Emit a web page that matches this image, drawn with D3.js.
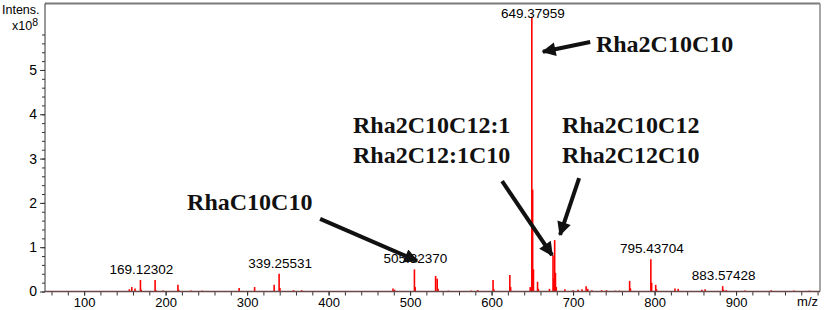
<html>
<script src="https://d3js.org/d3.v7.min.js"></script>
<body style="margin:0;background:#fff"></body>
<script>
const width = 829;
const height = 310;

// spectrum sticks: m/z and intensity (x10^8)
const mzValues = [155.5, 158.5, 162.5, 169.12, 170.1, 187.1, 188.1, 197, 215.1, 216.1, 231, 245,
    290.2, 309.2, 333.2, 339.26, 340.3, 357, 367, 409, 479, 481, 505.32, 506.3, 531.3, 533.3, 534.3,
    547, 575, 583, 601.8, 602.8, 622.4, 623.4, 647.4, 649.38, 650.38, 651.39, 656.4, 657.4, 671,
    675.39, 676.4, 677.41, 678.4, 679.4, 690, 700, 706, 711, 716, 718, 723, 735, 741, 752, 757,
    769.4, 770.4, 795.44, 796.4, 801.4, 802.4, 825, 829, 858, 862, 883.57, 884.6, 888, 911, 943, 971, 990];
const intensities = [0.05, 0.10, 0.07, 0.26, 0.04, 0.26, 0.03, 0.02, 0.15, 0.04, 0.02, 0.02,
    0.08, 0.10, 0.15, 0.40, 0.08, 0.03, 0.03, 0.01, 0.07, 0.04, 0.50, 0.10, 0.35, 0.29, 0.06,
    0.02, 0.02, 0.03, 0.26, 0.05, 0.37, 0.10, 0.10, 6.20, 2.30, 0.50, 0.22, 0.06, 0.06,
    0.82, 0.30, 1.16, 0.42, 0.10, 0.05, 0.03, 0.04, 0.05, 0.12, 0.06, 0.03, 0.03, 0.03, 0.02, 0.02,
    0.24, 0.07, 0.73, 0.20, 0.15, 0.05, 0.07, 0.06, 0.04, 0.05, 0.12, 0.04, 0.03, 0.02, 0.03, 0.02, 0.02];

// labelled peaks
const labelMz = [169.12302, 339.25531, 505.32370, 649.37959, 795.43704, 883.57428];
const labelIntensity = [0.26, 0.40, 0.50, 6.20, 0.73, 0.12];

const yTicks = [0, 1, 2, 3, 4, 5];
const xTicks = [100, 200, 300, 400, 500, 600, 700, 800, 900];

// annotations (text lines, anchor in data units) and arrows (tail -> tip in data units)
const annoText = [['Rha2C10C10'], ['RhaC10C10'], ['Rha2C10C12:1', 'Rha2C12:1C10'], ['Rha2C10C12', 'Rha2C12C10']];
const annoAt = [[728, 5.41], [226.4, 1.84], [430, 3.58], [686.5, 3.58]];
const arrowTail = [[721, 5.63], [389.6, 1.64], [612.9, 2.49], [707.4, 2.56]];
const arrowTip = [[663, 5.41], [508.6, 0.69], [674.2, 0.82], [684, 1.28]];

const plotLeft = 45, plotRight = 820, plotTop = 3.5, plotBottom = 291.5;

const x = d3.scaleLinear().domain([52, 1003]).range([plotLeft, plotRight]);
const y = d3.scaleLinear().domain([0, 6.5]).range([plotBottom, plotTop]);

const svg = d3.select('body')
    .append('svg')
        .attr('width', width)
        .attr('height', height)
        .style('font-family', 'Liberation Sans, Arial, sans-serif');

// frame top and right
svg.append('line')
    .attr('x1', plotLeft).attr('x2', plotRight).attr('y1', plotTop).attr('y2', plotTop)
    .attr('stroke', '#7a7a7a').attr('stroke-width', 2);
svg.append('line')
    .attr('x1', plotRight).attr('x2', plotRight).attr('y1', plotTop).attr('y2', plotBottom)
    .attr('stroke', '#8a8a8a').attr('stroke-width', 1.5);

// spectrum
svg.append('g')
    .selectAll('line')
    .data(mzValues.map((m, i) => ({mz: m, v: intensities[i]})))
    .enter()
    .append('line')
        .attr('x1', d => x(d.mz))
        .attr('x2', d => x(d.mz))
        .attr('y1', y(0))
        .attr('y2', d => y(d.v))
        .attr('stroke', '#ff0000')
        .attr('stroke-width', 1.6);

// y axis
const yMinor = d3.range(0, 5.81, 0.2);
svg.append('g')
    .attr('transform', `translate(${plotLeft},0)`)
    .call(d3.axisLeft(y).tickValues(yMinor).tickSize(3).tickFormat(''))
    .call(g => g.select('.domain').remove())
    .call(g => g.selectAll('line').attr('stroke', '#333'));
svg.append('g')
    .attr('transform', `translate(${plotLeft},0)`)
    .call(d3.axisLeft(y).tickValues(yTicks).tickSize(5).tickPadding(3).tickFormat(d3.format('d')))
    .call(g => g.select('.domain').attr('d', `M0,${plotTop}V${plotBottom}`).attr('stroke', '#333'))
    .call(g => g.selectAll('line').attr('stroke', '#333'))
    .call(g => g.selectAll('text').attr('font-size', 14).attr('fill', '#000').attr('font-family', null));

// x axis
const xMinor = d3.range(60, 1001, 20);
svg.append('g')
    .attr('transform', `translate(0,${plotBottom})`)
    .call(d3.axisBottom(x).tickValues(xMinor).tickSize(4).tickFormat(''))
    .call(g => g.select('.domain').remove())
    .call(g => g.selectAll('line').attr('stroke', '#333'));
svg.append('g')
    .attr('transform', `translate(0,${plotBottom})`)
    .call(d3.axisBottom(x).tickValues(xTicks).tickSize(4).tickPadding(2))
    .call(g => g.select('.domain').attr('d', `M${plotLeft},0H${plotRight}`).attr('stroke', '#6a4848').attr('stroke-width', 1.5))
    .call(g => g.selectAll('line').attr('stroke', '#333'))
    .call(g => g.selectAll('text').attr('font-size', 13).attr('fill', '#000').attr('font-family', null));

svg.append('text')
    .attr('x', 818).attr('y', 306)
    .attr('text-anchor', 'end')
    .attr('font-size', 13)
    .text('m/z');

svg.append('text')
    .attr('x', 2).attr('y', 14)
    .attr('font-size', 12.5)
    .text('Intens.');
const expo = svg.append('text')
    .attr('x', 12).attr('y', 30)
    .attr('font-size', 12.5)
    .text('x10');
expo.append('tspan')
    .attr('dy', -4)
    .attr('font-size', 10.5)
    .text('8');

// peak labels
svg.append('g')
    .selectAll('text')
    .data(labelMz.map((m, i) => ({mz: m, v: labelIntensity[i]})))
    .enter()
    .append('text')
        .attr('x', d => x(d.mz) + 1)
        .attr('y', d => Math.max(y(d.v) - 6, 18))
        .attr('text-anchor', 'middle')
        .attr('font-size', 13.5)
        .attr('fill', '#000')
        .text(d => d.mz.toFixed(5));

// annotations
svg.append('g')
    .selectAll('text')
    .data(annoText.map((t, i) => ({lines: t, at: annoAt[i]})))
    .enter()
    .append('text')
        .attr('font-family', 'Liberation Serif, Times New Roman, serif')
        .attr('font-weight', 'bold')
        .attr('font-size', 24)
        .attr('fill', '#111')
        .each(function(d) {
            const t = d3.select(this);
            d.lines.forEach((line, j) => {
                t.append('tspan')
                    .attr('x', x(d.at[0]))
                    .attr('y', y(d.at[1]) + j * 30)
                    .text(line);
            });
        });

svg.append('defs')
    .append('marker')
        .attr('id', 'head')
        .attr('viewBox', '0 0 10 10')
        .attr('refX', 9)
        .attr('refY', 5)
        .attr('markerWidth', 4)
        .attr('markerHeight', 3.5)
        .attr('orient', 'auto')
        .attr('markerUnits', 'strokeWidth')
    .append('path')
        .attr('d', 'M0,0L10,5L0,10Z')
        .attr('fill', '#111');

svg.append('g')
    .selectAll('line')
    .data(arrowTail.map((t, i) => ({from: t, to: arrowTip[i]})))
    .enter()
    .append('line')
        .attr('x1', d => x(d.from[0]))
        .attr('y1', d => y(d.from[1]))
        .attr('x2', d => x(d.to[0]))
        .attr('y2', d => y(d.to[1]))
        .attr('stroke', '#111')
        .attr('stroke-width', 4)
        .attr('marker-end', 'url(#head)');
</script>
</html>
